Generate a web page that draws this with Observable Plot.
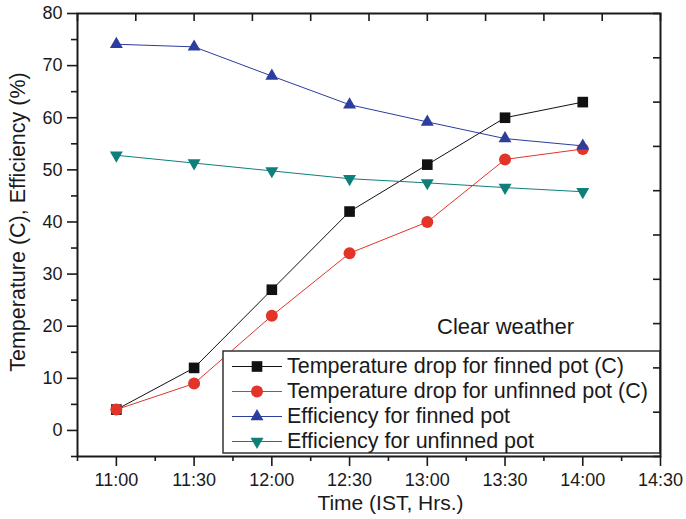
<!DOCTYPE html>
<html><head><meta charset="utf-8">
<script src="https://cdn.jsdelivr.net/npm/d3@7"></script>
<script src="https://cdn.jsdelivr.net/npm/@observablehq/plot@0.6"></script>
<style>
html,body{margin:0;padding:0;background:#fff;}
#chart{width:686px;height:519px;}
</style></head><body><div id="chart"></div>
<script>
// ---- data ----
const times = ["11:00", "11:30", "12:00", "12:30", "13:00", "13:30", "14:00"];
const tempFinned = [4, 12, 27, 42, 51, 60, 63];
const tempUnfinned = [4, 9, 22, 34, 40, 52, 54];
const effFinned = [74.1, 73.6, 68, 62.5, 59.2, 56, 54.6];
const effUnfinned = [52.8, 51.3, 49.8, 48.3, 47.5, 46.6, 45.8];

const seriesNames = [
  "Temperature drop for finned pot (C)",
  "Temperature drop for unfinned pot (C)",
  "Efficiency for finned pot",
  "Efficiency for unfinned pot"
];
const xTickLabels = ["11:00", "11:30", "12:00", "12:30", "13:00", "13:30", "14:00", "14:30"];
const yTicks = [0, 10, 20, 30, 40, 50, 60, 70, 80];
const xStart = "10:45";
const yMin = -5, yMax = 80;
const xTitle = "Time (IST, Hrs.)";
const yTitle = "Temperature (C), Efficiency (%)";
const note = "Clear weather";

// ---- styles ----
const seriesColors = ["#111111", "#e3342a", "#2b3d9f", "#0e7f7b"];
const seriesSymbols = ["square", "circle", "triangle", "triangle"];
const seriesRotate = [0, 0, 0, 180];
const seriesR = [6, 6, 4.8, 4.8];

const toMin = s => { const [h, m] = s.split(":").map(Number); return h * 60 + m; };
const xDomain = [toMin(xStart), toMin(xTickLabels[xTickLabels.length - 1])];
const yDomain = [yMin, yMax];
const seriesValues = [tempFinned, tempUnfinned, effFinned, effUnfinned];
const rows = seriesValues.flatMap((vals, si) => vals.map((v, i) => ({s: si, t: toMin(times[i]), v})));

const W = 686, H = 519, mL = 77, mR = 26, mT = 13, mB = 63;
const pw = W - mL - mR, ph = H - mT - mB;
const font = "'Liberation Sans', Arial, Helvetica, sans-serif";
const ink = "#1a1a1a";

const majorX = xTickLabels.map(toMin);
const minorX = majorX.map(m => m - 15);
const minorY = yTicks.map(v => v - 5);
const topTicks = d3.range(11).map(k => xDomain[0] + (xDomain[1] - xDomain[0]) * k / 10);
const rightTicks = d3.range(11).map(k => yDomain[0] + (yDomain[1] - yDomain[0]) * k / 10);

const marks = [];
seriesNames.forEach((name, si) => {
  const d = rows.filter(r => r.s === si);
  marks.push(Plot.line(d, {x: "t", y: "v", stroke: seriesColors[si], strokeWidth: 1}));
  marks.push(Plot.dot(d, {x: "t", y: "v", fill: seriesColors[si], stroke: "none",
    symbol: seriesSymbols[si], r: seriesR[si], rotate: seriesRotate[si]}));
});
marks.push(
  Plot.frame({stroke: ink, strokeWidth: 2}),
  Plot.axisX({ticks: majorX, tickFormat: m => xTickLabels[majorX.indexOf(m)], tickSize: 10, tickPadding: 7,
    fontSize: 18, label: null, strokeWidth: 1.6}),
  Plot.axisX({ticks: minorX, tickFormat: () => "", tickSize: 5, label: null, strokeWidth: 1.6}),
  Plot.axisY({ticks: yTicks, tickSize: 10, tickPadding: 5, fontSize: 18, label: null, strokeWidth: 1.6}),
  Plot.axisY({ticks: minorY, tickFormat: () => "", tickSize: 6, label: null, strokeWidth: 1.6}),
  Plot.tickX(topTicks, {x: d => d, insetBottom: ph - 8, stroke: ink, strokeWidth: 1.6}),
  Plot.tickY(rightTicks, {y: d => d, insetLeft: pw - 7, stroke: ink, strokeWidth: 1.6})
);

const plot = Plot.plot({
  width: W, height: H,
  marginLeft: mL, marginRight: mR, marginTop: mT, marginBottom: mB,
  x: {domain: xDomain},
  y: {domain: yDomain},
  style: {fontFamily: font, color: ink, background: "white"},
  marks
});
document.getElementById("chart").appendChild(plot);

const svg = d3.select(plot);

// legend (inserted above data marks but below the frame/ticks)
const legend = d3.create("svg:g").attr("text-anchor", "start");
const lx = 223, ly = 351, lw = 660 - 223, lh = 102;
legend.append("rect").attr("x", lx).attr("y", ly).attr("width", lw).attr("height", lh)
  .attr("fill", "white").attr("stroke", "#333").attr("stroke-width", 1.5);
seriesNames.forEach((name, si) => {
  const cy = 366.5 + si * 25;
  legend.append("line").attr("x1", 232).attr("x2", 282).attr("y1", cy).attr("y2", cy)
    .attr("stroke", seriesColors[si]).attr("stroke-width", 1);
  const symType = {square: d3.symbolSquare, circle: d3.symbolCircle, triangle: d3.symbolTriangle}[seriesSymbols[si]];
  legend.append("path").attr("d", d3.symbol(symType, seriesR[si] * seriesR[si] * Math.PI)())
    .attr("transform", `translate(257,${cy}) rotate(${seriesRotate[si]})`)
    .attr("fill", seriesColors[si]);
  legend.append("text").attr("x", 287).attr("y", cy).attr("dy", "0.32em")
    .attr("text-anchor", "start")
    .attr("font-size", 21.5).attr("fill", ink).attr("font-family", font).text(name);
});
const dots = plot.querySelectorAll('g[aria-label="dot"]');
const lastDot = dots[dots.length - 1];
lastDot.parentNode.insertBefore(legend.node(), lastDot.nextSibling);

svg.append("text").attr("x", 437).attr("y", 334).attr("font-size", 22).attr("text-anchor", "start")
  .attr("fill", ink).attr("font-family", font).text(note);

svg.append("text").attr("x", 390.5).attr("y", 510).attr("text-anchor", "middle")
  .attr("font-size", 21).attr("fill", ink).attr("font-family", font).text(xTitle);

svg.append("text").attr("transform", "translate(25,222) rotate(-90)").attr("text-anchor", "middle")
  .attr("font-size", 21.5).attr("fill", ink).attr("font-family", font).text(yTitle);
</script>
</body></html>
